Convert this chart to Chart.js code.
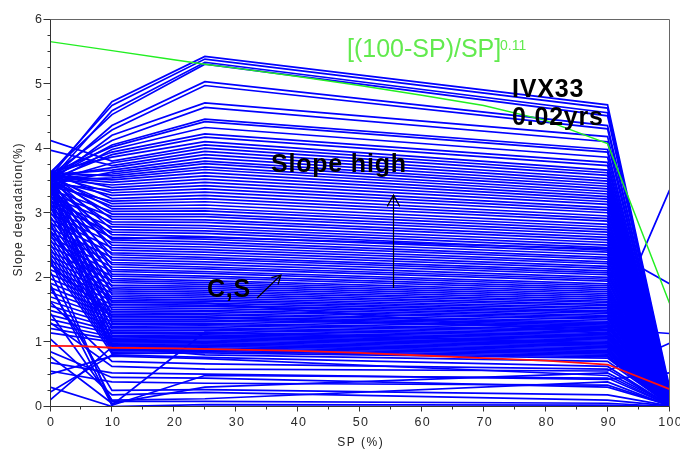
<!DOCTYPE html>
<html>
<head>
<meta charset="utf-8">
<script src="https://cdn.jsdelivr.net/npm/chart.js@4/dist/chart.umd.min.js"></script>
<style>
html,body{margin:0;padding:0;background:#fff;overflow:hidden;}
#wrap{width:680px;height:450px;position:relative;}
</style>
</head>
<body>
<div id="wrap"><canvas id="c" width="680" height="450"></canvas></div>
<script>
// ---- data ----
const spPoints = [0, 10, 25, 90, 100];
// each row: slope degradation at SP = 0, 10, 25, 90, 100
const blueLines = [
  [3.55, 4.72, 5.42, 4.67, 0.30],
  [3.60, 4.66, 5.38, 4.62, 0.26],
  [3.50, 4.58, 5.33, 4.55, 0.22],
  [3.62, 4.52, 5.30, 4.50, 0.20],
  [3.52, 4.35, 5.03, 4.35, 0.18],
  [3.58, 4.28, 4.97, 4.30, 0.16],
  [3.48, 4.20, 4.70, 4.18, 0.15],
  [3.56, 4.12, 4.63, 4.10, 0.14],
  [3.53, 4.05, 4.45, 3.98, 0.12],
  [3.61, 4.02, 4.41, 3.94, 0.13],
  [3.46, 3.98, 4.32, 3.86, 0.11],
  [3.57, 3.94, 4.22, 3.78, 0.12],
  [3.51, 3.90, 4.17, 3.73, 0.10],
  [3.63, 3.86, 4.10, 3.66, 0.11],
  [4.12, 3.80, 4.05, 3.62, 0.09],
  [3.49, 3.77, 4.00, 3.58, 0.10],
  [3.97, 3.73, 3.95, 3.53, 0.08],
  [3.55, 3.70, 3.90, 3.49, 0.09],
  [3.59, 3.66, 3.85, 3.45, 0.10],
  [3.44, 3.63, 3.80, 3.41, 0.07],
  [3.54, 3.60, 3.76, 3.37, 0.08],
  [3.62, 3.57, 3.71, 3.33, 0.09],
  [3.50, 3.54, 3.67, 3.29, 0.07],
  [3.57, 3.51, 3.62, 3.25, 0.08],
  [3.56, 3.47, 3.57, 3.21, 0.06],
  [3.52, 3.43, 3.52, 3.17, 0.07],
  [3.60, 3.39, 3.47, 3.13, 0.06],
  [3.45, 3.35, 3.42, 3.08, 0.07],
  [3.58, 3.31, 3.37, 3.04, 0.05],
  [3.50, 3.27, 3.32, 3.00, 0.06],
  [3.64, 3.22, 3.27, 2.95, 0.05],
  [3.41, 3.18, 3.22, 2.91, 0.06],
  [3.55, 3.14, 3.17, 2.87, 0.05],
  [3.47, 3.10, 3.12, 2.82, 0.06],
  [3.59, 3.06, 3.07, 2.78, 0.04],
  [3.36, 3.02, 3.03, 2.74, 0.05],
  [3.53, 2.98, 2.98, 2.70, 0.04],
  [3.30, 2.94, 2.94, 2.66, 0.05],
  [3.61, 2.90, 2.89, 2.62, 0.04],
  [3.25, 2.86, 2.85, 2.58, 0.05],
  [3.49, 2.82, 2.80, 2.54, 0.04],
  [3.18, 2.78, 2.76, 2.50, 0.05],
  [3.57, 2.74, 2.72, 2.46, 0.04],
  [3.12, 2.70, 2.68, 2.42, 0.05],
  [3.44, 2.66, 2.63, 2.39, 0.03],
  [3.05, 2.62, 2.59, 2.35, 0.04],
  [3.55, 2.58, 2.55, 2.31, 0.03],
  [2.98, 2.54, 2.51, 2.28, 0.04],
  [3.38, 2.50, 2.47, 2.24, 0.03],
  [2.90, 2.46, 2.43, 2.21, 0.04],
  [3.60, 2.42, 2.39, 2.17, 0.03],
  [2.84, 2.38, 2.35, 2.14, 0.04],
  [3.32, 2.35, 2.31, 2.10, 0.03],
  [2.76, 2.31, 2.28, 2.07, 0.04],
  [3.51, 2.27, 2.24, 2.04, 0.03],
  [2.70, 2.23, 2.20, 2.00, 0.04],
  [3.26, 2.20, 2.16, 1.97, 0.03],
  [2.62, 2.16, 2.13, 1.94, 0.04],
  [3.46, 2.12, 2.09, 1.90, 0.03],
  [2.55, 2.09, 2.06, 1.87, 0.04],
  [3.20, 2.05, 2.02, 1.84, 0.03],
  [2.48, 2.02, 1.99, 1.81, 0.03],
  [3.58, 1.98, 1.95, 1.78, 0.02],
  [2.40, 1.95, 1.92, 1.75, 0.03],
  [3.14, 1.92, 1.89, 1.72, 0.02],
  [2.33, 1.88, 1.86, 1.69, 0.03],
  [3.42, 1.85, 1.83, 1.66, 0.02],
  [2.26, 1.82, 1.80, 1.63, 0.03],
  [3.08, 1.79, 1.77, 1.61, 0.02],
  [2.19, 1.76, 1.74, 1.58, 0.03],
  [3.53, 1.73, 1.71, 1.56, 0.02],
  [2.12, 1.70, 1.68, 1.53, 0.03],
  [3.02, 1.67, 1.65, 1.51, 0.02],
  [2.05, 1.64, 1.63, 1.48, 0.03],
  [3.36, 1.61, 1.60, 1.46, 0.02],
  [1.98, 1.58, 1.57, 1.44, 0.03],
  [2.95, 1.56, 1.55, 1.41, 0.02],
  [1.91, 1.53, 1.52, 1.39, 0.03],
  [3.48, 1.50, 1.49, 1.37, 0.02],
  [1.84, 1.47, 1.47, 1.35, 0.03],
  [2.88, 1.45, 1.44, 1.32, 0.02],
  [1.77, 1.42, 1.42, 1.30, 0.03],
  [3.30, 1.39, 1.39, 1.28, 0.02],
  [1.70, 1.37, 1.37, 1.26, 0.03],
  [2.81, 1.34, 1.34, 1.24, 0.02],
  [1.63, 1.32, 1.32, 1.22, 0.03],
  [3.56, 1.29, 1.29, 1.19, 0.02],
  [1.56, 1.27, 1.27, 1.17, 0.03],
  [2.74, 1.24, 1.25, 1.15, 0.02],
  [1.49, 1.22, 1.22, 1.13, 0.03],
  [3.24, 1.20, 1.20, 1.11, 0.02],
  [1.42, 1.17, 1.18, 1.09, 0.03],
  [2.67, 1.15, 1.15, 1.07, 0.02],
  [1.35, 1.13, 1.13, 1.05, 0.03],
  [3.44, 1.10, 1.11, 1.03, 0.02],
  [1.28, 1.08, 1.09, 1.01, 0.03],
  [2.60, 1.06, 1.07, 0.99, 0.02],
  [1.21, 1.04, 1.05, 0.97, 0.03],
  [3.18, 1.02, 1.03, 0.95, 0.02],
  [1.14, 1.00, 1.01, 0.93, 0.03],
  [2.53, 0.98, 0.99, 0.91, 0.02],
  [3.50, 0.96, 0.97, 0.89, 0.03],
  [2.46, 0.94, 0.95, 0.87, 0.02],
  [3.12, 0.92, 0.93, 0.85, 0.03],
  [2.39, 0.90, 0.91, 0.83, 0.02],
  [2.85, 0.88, 0.89, 0.81, 0.03],
  [2.32, 0.86, 0.87, 0.79, 0.02],
  [3.40, 0.84, 0.85, 0.77, 0.03],
  [2.25, 0.82, 0.83, 0.75, 0.02],
  [0.10, 0.92, 0.80, 0.70, 0.03],
  [0.22, 0.80, 0.76, 0.62, 0.02],
  [1.90, 0.02, 1.15, 0.98, 0.05],
  [2.30, 0.02, 0.48, 0.44, 0.02],
  [0.78, 0.05, 0.30, 0.52, 0.03],
  [1.05, 0.18, 0.22, 0.10, 0.01],
  [0.55, 0.38, 0.36, 0.33, 0.02],
  [0.68, 0.52, 0.50, 0.42, 0.52],
  [1.45, 0.10, 0.12, 0.38, 0.01],
  [1.30, 0.62, 0.58, 0.55, 0.98],
  [1.62, 0.70, 0.66, 0.58, 0.02],
  [0.30, 0.00, 0.03, 0.02, 0.00],
  [1.85, 0.25, 0.26, 0.18, 0.01],
  [2.10, 0.08, 0.08, 0.05, 0.00],
  [0.85, 0.45, 0.44, 0.30, 0.02],
  [0.50, 0.78, 0.74, 0.48, 0.02],
  [2.70, 1.62, 1.60, 1.13, 3.35],
  [3.30, 2.60, 2.62, 2.44, 1.90],
  [2.20, 1.40, 1.38, 1.20, 1.13]
];
const greenSP = [0, 10, 20, 25, 30, 40, 50, 60, 70, 80, 90, 100];
const greenValues = [5.65, 5.51, 5.37, 5.30, 5.24, 5.11, 4.97, 4.82, 4.66, 4.43, 4.07, 1.60];
const redSP = [0, 5, 10, 20, 30, 40, 50, 60, 70, 80, 90, 100];
const redValues = [0.94, 0.935, 0.91, 0.90, 0.88, 0.86, 0.83, 0.79, 0.75, 0.71, 0.65, 0.27];
const xTickValues = [0, 10, 20, 30, 40, 50, 60, 70, 80, 90, 100];
const yTickValues = [0, 1, 2, 3, 4, 5, 6];

// ---- datasets ----
const toPts = (xs, ys) => xs.map((x, i) => ({x: x, y: ys[i]}));
const datasets = [];
datasets.push({data: toPts(redSP, redValues), borderColor: '#ff1010', borderWidth: 1.8, order: 0});
datasets.push({data: toPts(greenSP, greenValues), borderColor: '#22ee22', borderWidth: 1.4, order: 1});
blueLines.forEach(row => {
  datasets.push({data: toPts(spPoints, row), borderColor: '#0000ff', borderWidth: 1.7, order: 2});
});

function txt(ctx, s, x, y, font, color, align, spacing) {
  ctx.font = font;
  ctx.fillStyle = color;
  ctx.textAlign = align || 'left';
  try { ctx.letterSpacing = (spacing || 0) + 'px'; } catch (e) {}
  let dx = 0;
  if (spacing) { if (align === 'center') dx = spacing / 2; else if (align === 'right') dx = spacing; }
  ctx.fillText(s, x + dx, y);
  try { ctx.letterSpacing = '0px'; } catch (e) {}
}

function arrow(ctx, x1, y1, x2, y2, headLen) {
  const ang = Math.atan2(y2 - y1, x2 - x1);
  ctx.beginPath();
  ctx.moveTo(x1, y1); ctx.lineTo(x2, y2);
  ctx.moveTo(x2 - headLen * Math.cos(ang - 0.5), y2 - headLen * Math.sin(ang - 0.5));
  ctx.lineTo(x2, y2);
  ctx.lineTo(x2 - headLen * Math.cos(ang + 0.5), y2 - headLen * Math.sin(ang + 0.5));
  ctx.stroke();
}

const overlay = {
  id: 'overlay',
  afterDraw(chart) {
    const ctx = chart.ctx, xs = chart.scales.x, ys = chart.scales.y;
    ctx.save();
    const X = v => Math.floor(xs.getPixelForValue(v)) + 0.5;
    const Y = v => Math.floor(ys.getPixelForValue(v)) + 0.5;
    // frame
    ctx.lineWidth = 1;
    ctx.strokeStyle = '#666';
    ctx.beginPath();
    ctx.moveTo(X(0), Y(6)); ctx.lineTo(X(100), Y(6)); ctx.lineTo(X(100), Y(0));
    ctx.stroke();
    ctx.strokeStyle = '#333';
    ctx.beginPath();
    ctx.moveTo(X(0), Y(6)); ctx.lineTo(X(0), Y(0)); ctx.lineTo(X(100), Y(0));
    ctx.stroke();
    // ticks
    ctx.beginPath();
    for (let v = 0; v <= 100; v += 5) {
      const len = (v % 10 === 0) ? 5 : 3;
      ctx.moveTo(X(v), Y(0)); ctx.lineTo(X(v), Y(0) + len);
    }
    for (let v = 0; v <= 6.0001; v += 0.25) {
      const len = (Math.abs(v - Math.round(v)) < 1e-6) ? 7 : 3;
      ctx.moveTo(X(0), Y(v)); ctx.lineTo(X(0) - len, Y(v));
    }
    ctx.stroke();
    // tick labels
    const small = '12.5px "Liberation Sans", Arial, sans-serif';
    ctx.textBaseline = 'alphabetic';
    xTickValues.forEach(v => txt(ctx, String(v), xs.getPixelForValue(v) + 0.5, 425.5, small, '#2a2a2a', 'center', 1.3));
    ctx.textBaseline = 'middle';
    yTickValues.forEach(v => txt(ctx, String(v), 42, ys.getPixelForValue(v) + 0.5, small, '#2a2a2a', 'right', 1.3));
    // axis titles
    ctx.textBaseline = 'alphabetic';
    txt(ctx, 'SP (%)', 360, 446, '12px "Liberation Sans", Arial, sans-serif', '#222', 'center', 1.5);
    ctx.save();
    ctx.translate(22, 210);
    ctx.rotate(-Math.PI / 2);
    txt(ctx, 'Slope degradation(%)', 0, 0, '12px "Liberation Sans", Arial, sans-serif', '#222', 'center', 0.9);
    ctx.restore();
    // annotations
    txt(ctx, '[(100-SP)/SP]', 347, 57, '25px "Liberation Sans", Arial, sans-serif', '#62ea4e', 'left', 0);
    txt(ctx, '0.11', 500, 50, '14px "Liberation Sans", Arial, sans-serif', '#62ea4e', 'left', 0);
    const bold = 'bold 25px "Liberation Sans", Arial, sans-serif';
    txt(ctx, 'IVX33', 512, 97, bold, '#000', 'left', 0.8);
    txt(ctx, '0.02yrs', 512, 125, bold, '#000', 'left', 0.8);
    txt(ctx, 'Slope high', 271, 172, bold, '#000', 'left', 0.8);
    txt(ctx, 'C,S', 207, 297, bold, '#000', 'left', 0.8);
    ctx.strokeStyle = '#000';
    ctx.lineWidth = 1.2;
    arrow(ctx, 393.5, 288, 393.5, 195, 13);
    arrow(ctx, 257, 298, 281, 275, 10);
    ctx.restore();
  }
};

new Chart(document.getElementById('c'), {
  type: 'line',
  data: {datasets: datasets},
  options: {
    responsive: false,
    devicePixelRatio: 1,
    animation: false,
    events: [],
    layout: {padding: {left: 50, right: 10.5, top: 19, bottom: 43.5}},
    elements: {point: {radius: 0}, line: {tension: 0, fill: false}},
    plugins: {legend: {display: false}, tooltip: {enabled: false}},
    scales: {
      x: {type: 'linear', min: 0, max: 100, display: false},
      y: {type: 'linear', min: 0, max: 6, display: false}
    }
  },
  plugins: [overlay]
});
</script>
</body>
</html>
